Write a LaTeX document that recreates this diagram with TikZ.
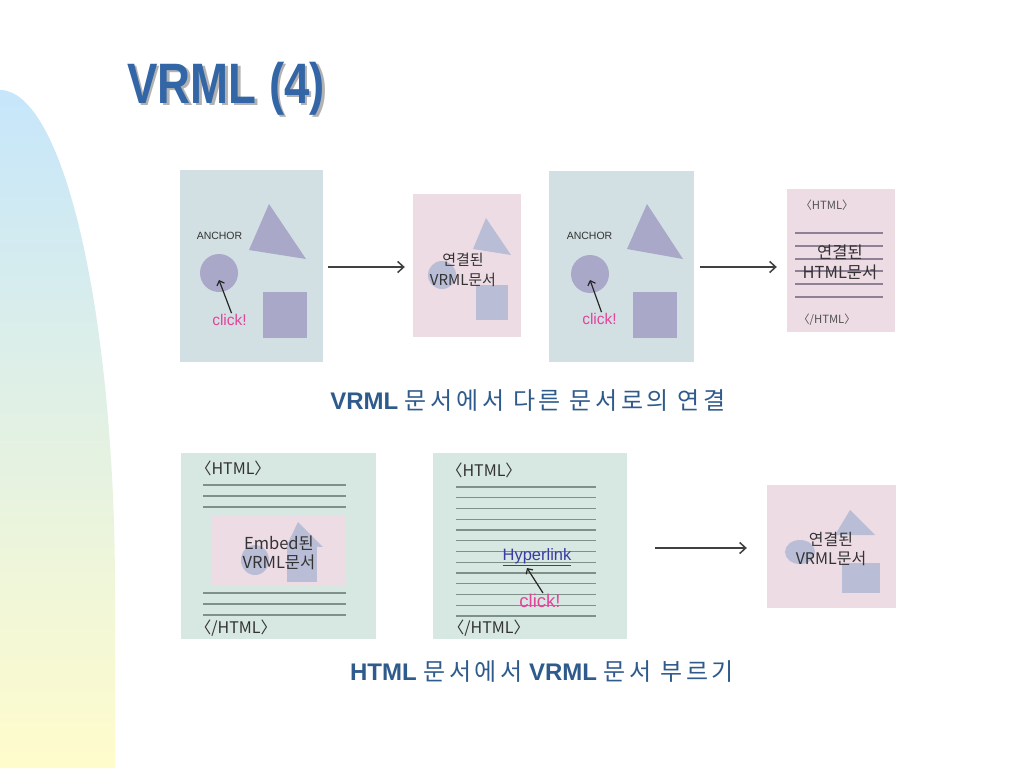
\documentclass[tikz,border=0pt]{standalone}
\usepackage{fontspec}
\setmainfont{Liberation Sans}
\newfontfamily\kr{Noto Sans CJK KR}
\newfontfamily\krcap[LetterSpace=15]{Noto Sans CJK KR}
\usetikzlibrary{arrows.meta,calc}
\definecolor{bandtop}{HTML}{C6E6FB}
\definecolor{bandbot}{HTML}{FFFCCC}
\definecolor{titleblue}{HTML}{3366A6}
\definecolor{capblue}{HTML}{2F5B8C}
\definecolor{panelblue}{HTML}{D2E0E3}
\definecolor{panelpink}{HTML}{EEDCE5}
\definecolor{panelmint}{HTML}{D7E7E2}
\definecolor{shapeA}{HTML}{AAA8C8}
\definecolor{shapeB}{HTML}{B9BDD6}
\definecolor{clickpink}{HTML}{E2449C}
\definecolor{linkblue}{HTML}{3C3CA0}
\definecolor{htmlline}{HTML}{8E8095}
\definecolor{mintline}{HTML}{7F8F8A}
\definecolor{darktxt}{HTML}{333333}
\newcommand{\titletext}{\fontsize{57}{60}\selectfont\bfseries\scalebox{0.8}[1]{VRML (4)}}
\tikzset{
  panel/.style={rectangle, inner sep=0pt, draw=none},
  bluepanel/.style={panel, fill=panelblue},
  pinkpanel/.style={panel, fill=panelpink},
  mintpanelbox/.style={panel, fill=panelmint},
  shpA/.style={fill=shapeA, draw=none},
  shpB/.style={fill=shapeB, draw=none},
  arr/.style={draw=black!75, line width=1.5pt, -{Straight Barb[length=6pt,width=11pt,line width=1.5pt]}},
  clickarr/.style={draw=black!85, line width=1.2pt, -{Straight Barb[length=4pt,width=8pt,line width=1.2pt]}},
  anchortxt/.style={font=\fontsize{10.5}{12}\selectfont, text=darktxt, inner sep=0pt},
  clicktxt/.style={font=\fontsize{15.5}{17}\selectfont, text=clickpink, inner sep=0pt},
  doctxt/.style={text=darktxt, align=center, inner sep=0pt},
  tagsmall/.style={font=\kr\fontsize{11.3}{13}\selectfont, text=darktxt!85, inner sep=0pt},
  tagbig/.style={font=\kr\fontsize{16}{18}\selectfont, text=darktxt, inner sep=0pt},
  hline/.style={draw=htmlline, line width=1.4pt},
  mline/.style={draw=mintline, line width=1.1pt},
  caption/.style={text=capblue, inner sep=0pt, anchor=base}
}
\begin{document}
\begin{tikzpicture}[x=1pt,y=-1pt]
\useasboundingbox (0,0) rectangle (1024,768);
\fill[white] (0,0) rectangle (1024,768);
% left band
\shade[top color=bandtop, bottom color=bandbot]
  (0,768) -- plot[domain=0:90, samples=60, smooth] ({115*sin(\x)},{590-500*cos(\x)}) -- (115,768) -- cycle;
% title with shadow (one node)
\node[anchor=base west, inner sep=0pt] (title) at (127,103)
  {\makebox[0pt][l]{\hspace{2.5pt}\raisebox{-2.5pt}{\textcolor{black!30}{\titletext}}}\textcolor{titleblue}{\titletext}};

% ===== Row 1 =====
\node[bluepanel, minimum width=143pt, minimum height=192pt] (p1) at (251.5,266) {};
\node[pinkpanel, minimum width=108pt, minimum height=143pt] (p2) at (467,265.5) {};
\node[bluepanel, minimum width=145pt, minimum height=191pt] (p3) at (621.5,266.5) {};
\node[pinkpanel, minimum width=108pt, minimum height=143pt] (p4) at (841,260.5) {};

% panel 1 shapes
\fill[shpA] (269,204) -- (249,250) -- (306,259) -- cycle;
\fill[shpA] (219,273) circle (19);
\fill[shpA] (263,292) rectangle (307,338);
\node[anchortxt] (a1) at (219.5,236) {ANCHOR};
\node[clicktxt] (k1) at (229.5,320) {click!};
\coordinate (h1) at (219,280);
\draw[clickarr] ($(k1.north)+(2,-1)$) -- (h1);

% panel 2 shapes
\fill[shpB] (486,218) -- (473,249) -- (511,255) -- cycle;
\fill[shpB] (442,275) circle (14);
\fill[shpB] (476,285) rectangle (508,320);
\node[doctxt, font=\kr\fontsize{15}{20}\selectfont] (t2) at (463,270) {연결된\\VRML문서};

% panel 3 shapes
\fill[shpA] (647,204) -- (627,249) -- (683,259) -- cycle;
\fill[shpA] (590,274) circle (19);
\fill[shpA] (633,292) rectangle (677,338);
\node[anchortxt] (a3) at (589.5,236) {ANCHOR};
\node[clicktxt] (k3) at (599.5,319) {click!};
\coordinate (h3) at (590,280);
\draw[clickarr] ($(k3.north)+(2,-1)$) -- (h3);

% panel 4
\foreach \yy in {233,246,259,271,284,297} \draw[hline] (795,\yy) -- (883,\yy);
\node[tagsmall] (o4) at (827,205) {〈HTML〉};
\node[tagsmall] (c4) at (827,320) {〈/HTML〉};
\node[doctxt, font=\kr\fontsize{16.5}{20}\selectfont] (t4) at (840,262) {연결된\\HTML문서};

% arrows row 1
\draw[arr, shorten <=5pt, shorten >=8pt] (p1.east |- 0,267) -- (p2.west |- 0,267);
\draw[arr, shorten <=6pt, shorten >=10pt] (p3.east |- 0,267) -- (p4.west |- 0,267);

% caption 1
\node[caption] (cap1) at (528,409) {\fontsize{24}{26}\selectfont\bfseries VRML\mdseries\ {\krcap\fontsize{24}{26}\selectfont 문서에서 다른 문서로의 연결}};

% ===== Row 2 =====
\node[mintpanelbox, minimum width=195pt, minimum height=186pt] (pA) at (278.5,546) {};
\node[mintpanelbox, minimum width=194pt, minimum height=186pt] (pB) at (530,546) {};
\node[pinkpanel, minimum width=129pt, minimum height=123pt] (pC) at (831.5,546.5) {};

% panel A
\node[tagbig] (oA) at (233,468) {〈HTML〉};
\foreach \yy in {485,496,507,593,604,615} \draw[mline] (203,\yy) -- (346,\yy);
\fill[panelpink] (212,515) rectangle (346,585);
\fill[shpB] (255,560) ellipse (14 and 15);
\fill[shpB] (298,522) -- (287,545) -- (323,547) -- cycle;
\fill[shpB] (287,545) rectangle (317,582);
\node[doctxt, font=\kr\fontsize{16.5}{19}\selectfont] (tA) at (279,553) {Embed된\\VRML문서};
\node[tagbig] (cA) at (236,628) {〈/HTML〉};

% panel B
\node[tagbig] (oB) at (484,470) {〈HTML〉};
\foreach \i in {0,...,12} \draw[mline] (456,{487+\i*10.75}) -- (596,{487+\i*10.75});
\node[font=\fontsize{16.5}{18}\selectfont, text=linkblue, inner sep=0pt] (hB) at (537,557) {\underline{Hyperlink}};
\node[clicktxt, font=\fontsize{18.5}{20}\selectfont] (kB) at (540,601) {click!};
\coordinate (hBh) at (527,568);
\draw[clickarr] ($(kB.north)+(3,-1)$) -- (hBh);
\node[tagbig] (cB) at (489,628) {〈/HTML〉};

% panel C
\fill[shpB] (850,510) -- (835,535) -- (875,535) -- cycle;
\fill[shpB] (800,552) ellipse (15 and 12);
\fill[shpB] (842,563) rectangle (880,593);
\node[doctxt, font=\kr\fontsize{16}{19}\selectfont] (tC) at (831,549) {연결된\\VRML문서};

% arrow row 2
\draw[arr, shorten <=28pt, shorten >=20pt] (pB.east |- 0,548) -- (pC.west |- 0,548);

% caption 2
\node[caption] (cap2) at (542,680) {\fontsize{24}{26}\selectfont\bfseries HTML\mdseries\ {\krcap\fontsize{24}{26}\selectfont 문서에서} \bfseries VRML\mdseries\ {\krcap\fontsize{24}{26}\selectfont 문서 부르기}};
\end{tikzpicture}
\end{document}
